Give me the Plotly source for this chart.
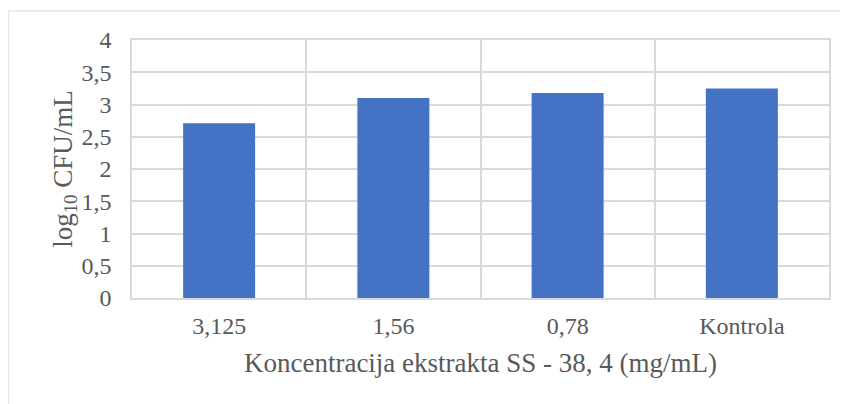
import plotly.graph_objects as go

categories = ["3,125", "1,56", "0,78", "Kontrola"]
values = [2.71, 3.10, 3.18, 3.25]
y_tickvals = [0, 0.5, 1, 1.5, 2, 2.5, 3, 3.5, 4]
y_ticktext = ["0", "0,5", "1", "1,5", "2", "2,5", "3", "3,5", "4"]

# page body has an 8px default margin; compensate in figure margins
W, H = 848, 404
ml, mr, mt, mb = 124, 27, 32, 114
pw, ph = W - ml - mr, H - mt - mb

fig = go.Figure(go.Bar(x=categories, y=values, marker=dict(color="#4472C4", line=dict(width=0)), width=0.413))

grid = "#d9d9d9"
font_fam = "Liberation Serif, Times New Roman, serif"
fig.update_layout(
    width=W, height=H,
    margin=dict(l=ml, r=mr, t=mt, b=mb),
    paper_bgcolor="white", plot_bgcolor="white",
    font=dict(family=font_fam, color="#595959", size=24),
    showlegend=False,
    xaxis=dict(
        type="category", tickson="boundaries", showgrid=True, gridcolor=grid, gridwidth=1.5,
        showline=True, linecolor=grid, linewidth=1.5, mirror=True, ticks="",
        tickfont=dict(size=24, color="#595959"), ticklabelstandoff=5,
        title=dict(text="Koncentracija ekstrakta SS - 38, 4 (mg/mL)", font=dict(size=27, color="#595959"), standoff=16),
    ),
    yaxis=dict(
        range=[0, 4], tickvals=y_tickvals, ticktext=y_ticktext,
        showgrid=True, gridcolor=grid, gridwidth=1.5,
        showline=True, linecolor=grid, linewidth=1.5, mirror=True, ticks="",
        tickfont=dict(size=24, color="#595959"), zeroline=False, ticklabelstandoff=14,
        title=dict(text="log<sub>10</sub> CFU/mL", font=dict(size=27, color="#595959"), standoff=0),
    ),
    shapes=[dict(type="rect", xref="paper", yref="paper",
                 x0=(0 - ml) / pw, x1=(W + 20 - ml) / pw,
                 y0=-(H + 20 - (H - mb)) / ph, y1=1 + (mt - 3) / ph,
                 line=dict(color=grid, width=1.2), fillcolor="rgba(0,0,0,0)", layer="below")],
)

fig.write_html("out.html")
